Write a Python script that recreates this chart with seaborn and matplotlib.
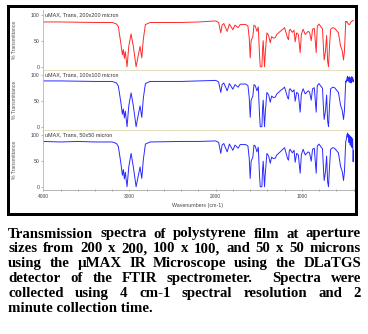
import re
import matplotlib
matplotlib.use("Agg")
import matplotlib.pyplot as plt
import pandas as pd
import seaborn as sns
from matplotlib.patches import Rectangle
from matplotlib.ticker import MultipleLocator

# ---- spectra: wavenumber (cm-1) and % transmittance for each aperture ----
wavenumber = [
    4000, 3800, 3600, 3400, 3200, 3150, 3129, 3101, 3082, 3071, 3059, 3048, 3028,
    3008, 2981, 2955, 2923, 2900, 2877, 2857, 2839, 2815, 2760, 2400, 2200, 2000,
    1986, 1965, 1940, 1925, 1905, 1866, 1840, 1800, 1775, 1739, 1715, 1650, 1625,
    1610, 1599, 1588, 1568, 1555, 1540, 1521, 1505, 1490, 1482, 1463, 1455, 1448,
    1433, 1422, 1405, 1385, 1366, 1350, 1330, 1308, 1290, 1250, 1220, 1200, 1165,
    1154, 1145, 1135, 1110, 1090, 1077, 1060, 1040, 1019, 1005, 985, 960, 926,
    910, 891, 875, 855, 833, 820, 800, 780, 760, 745, 740, 725, 712, 700, 690,
    678, 665, 640, 620, 600, 575, 550, 530, 516, 505, 490,
    484, 476, 470, 464, 458, 452, 446, 440, 434, 428, 422, 416, 410, 404, 400,
]

trans_200 = [
    86, 86, 85.5, 85, 85, 82, 77, 46, 23, 33, 16, 29, 0,
    39, 63, 39, 0, 20, 39, 17, 53, 81, 85, 85, 86, 88,
    87, 85, 65, 80, 83, 68, 82, 71, 80, 75, 81, 81, 78,
    55, 17, 50, 58, 80, 78, 68, 76, 20, 0, 0, 35, 50,
    0, 30, 65, 60, 46, 58, 55, 56, 62, 68, 72, 75, 55,
    52, 70, 72, 66, 70, 48, 65, 62, 27, 62, 72, 62, 68,
    66, 50, 72, 74, 27, 78, 82, 77, 73, 25, 13, 30, 60, 10, 0,
    40, 72, 75, 74, 70, 65, 40, 30, 13, 30, 87,
    86, 87, 85, 83, 82, 81, 81, 83, 85, 86, 87, 88, 88, 89, 89,
]

trans_100 = [
    88, 88, 87.5, 87, 87, 84, 78, 48, 24, 34, 17, 30, 0,
    40, 65, 40, 0, 21, 40, 18, 55, 83, 87, 87, 88, 89,
    88, 86, 66, 81, 84, 69, 83, 72, 81, 76, 82, 82, 79,
    56, 18, 51, 59, 81, 79, 69, 77, 21, 0, 0, 36, 51,
    0, 31, 66, 61, 47, 59, 56, 57, 63, 69, 73, 76, 56,
    53, 71, 73, 67, 71, 49, 66, 63, 28, 63, 73, 63, 69,
    67, 51, 73, 75, 28, 79, 83, 78, 74, 26, 14, 31, 61, 11, 0,
    41, 73, 76, 75, 71, 66, 41, 31, 14, 31, 88,
    86, 92, 97, 88, 95, 86, 96, 85, 94, 84, 96, 88, 95, 86, 90,
]

trans_50 = [
    87, 86, 87, 86, 86, 83, 77, 47, 22, 33, 15, 28, 0,
    38, 64, 38, 0, 19, 38, 16, 52, 82, 86, 87, 87, 88,
    87, 85, 64, 80, 83, 67, 82, 70, 80, 74, 81, 81, 78,
    54, 16, 49, 57, 80, 78, 67, 76, 19, 0, 0, 34, 49,
    0, 29, 64, 59, 45, 57, 54, 55, 61, 67, 72, 75, 54,
    51, 69, 72, 65, 70, 47, 64, 61, 26, 61, 72, 61, 67,
    65, 49, 72, 74, 26, 78, 82, 77, 73, 24, 12, 29, 59, 9, 0,
    39, 72, 75, 74, 70, 65, 39, 29, 12, 29, 88,
    90, 100, 103, 95, 101, 85, 99, 80, 97, 78, 95, 75, 92, 48, 70,
]

panel_series = [trans_200, trans_100, trans_50]
panel_titles = [
    "uMAX, Trans, 200x200 micron",
    "uMAX, Trans, 100x100 micron",
    "uMAX, Trans, 50x50 micron",
]
panel_colors = ["#ff2a2a", "#2a2aff", "#2a2aff"]
x_ticks = [4000, 3000, 2000, 1000]
y_ticks = [0, 50, 100]
y_label = "% Transmittance"
x_label = "Wavenumbers (cm-1)"

caption_lines = [
    "Transmission spectra of polystyrene film at aperture",
    "sizes from 200 x 200, 100 x 100, and 50 x 50 microns",
    "using the \u00b5MAX IR Microscope using the DLaTGS",
    "detector of the FTIR spectrometer.  Spectra were",
    "collected using 4 cm-1 spectral resolution and 2",
    "minute collection time.",
]

# ---- styling ----
sns.set_style("white")
plt.rcParams["font.family"] = ["Liberation Sans", "DejaVu Sans"]

W, H = 368, 334
fig = plt.figure(figsize=(W / 100, H / 100), dpi=100)
fig.patch.set_facecolor("white")


def fx(px):
    return px / W


def fy(py):
    return 1 - py / H


# black frame around the chart
fig.patches.append(Rectangle((fx(7), fy(216)), fx(358) - fx(7), fy(5) - fy(216),
                             transform=fig.transFigure, facecolor="black",
                             edgecolor="none", zorder=-3))
fig.patches.append(Rectangle((fx(9.5), fy(212.5)), fx(354.5) - fx(9.5), fy(7.5) - fy(212.5),
                             transform=fig.transFigure, facecolor="white",
                             edgecolor="none", zorder=-2))

left_px, right_px = 43.3, 353.5
top_px, panel_h = 10.0, 60.0

for i, (vals, title, color) in enumerate(zip(panel_series, panel_titles, panel_colors)):
    top = top_px + i * panel_h
    ax = fig.add_axes([fx(left_px), fy(top + panel_h), fx(right_px) - fx(left_px), panel_h / H])
    df = pd.DataFrame({"wavenumber": wavenumber, "transmittance": vals})
    sns.lineplot(data=df, x="wavenumber", y="transmittance", ax=ax, color=color,
                 linewidth=0.7, sort=False, estimator=None)
    ax.set_xlim(4000, 400)
    ax.set_ylim(-6.3, 109)
    ax.set_facecolor("none")
    ax.set_yticks(y_ticks)
    ax.set_yticklabels([str(v) for v in y_ticks])
    ax.tick_params(axis="y", length=1.8, width=0.5, pad=1.2, labelsize=3.7,
                   colors="#9a9a9a", labelcolor="#444444", left=True)
    ax.set_ylabel(y_label, fontsize=3.7, color="#555555")
    ax.yaxis.set_label_coords((16.5 - left_px) / (right_px - left_px), 0.5)
    ax.set_xlabel("")
    for side in ("top", "right"):
        ax.spines[side].set_visible(False)
    ax.spines["left"].set_color("#b5b5b5")
    ax.spines["left"].set_linewidth(0.6)
    ax.text(0.004, 1 - 2.2 / panel_h, title, transform=ax.transAxes, ha="left",
            va="top", fontsize=3.9, color="#333333")
    if i < 2:
        ax.spines["bottom"].set_color("#e4e0bf")
        ax.spines["bottom"].set_linewidth(0.8)
        ax.set_xticks([])
    else:
        ax.spines["bottom"].set_color("#a8a8a8")
        ax.spines["bottom"].set_linewidth(0.6)
        ax.set_xticks(x_ticks)
        ax.set_xticklabels([str(v) for v in x_ticks])
        ax.xaxis.set_minor_locator(MultipleLocator(200))
        ax.tick_params(axis="x", which="both", direction="inout", length=1.8, width=0.5,
                       colors="#8a8a8a", labelcolor="#444444", labelsize=3.5, pad=2.2,
                       bottom=True)

fig.text(fx(198), fy(205), x_label, ha="center", va="center", fontsize=3.8, color="#444444")

# ---- justified caption ----
cap_font = dict(family=["Liberation Serif", "DejaVu Serif"], weight="bold", size=10.7)
x0, x1 = 8.3, 361.0
baselines = [237.5, 252.3, 267.1, 281.9, 296.7, 311.5]

fig.canvas.draw()
renderer = fig.canvas.get_renderer()
for n, (line, yb) in enumerate(zip(caption_lines, baselines)):
    if n == len(caption_lines) - 1:
        fig.text(fx(x0), fy(yb), line, ha="left", va="baseline", color="black", **cap_font)
        continue
    parts = re.split(r"( +)", line)
    words = parts[0::2]
    gaps = [len(s) for s in parts[1::2]]
    artists, widths = [], []
    for w in words:
        t = fig.text(0, fy(yb), w, ha="left", va="baseline", color="black", **cap_font)
        widths.append(t.get_window_extent(renderer).width)
        artists.append(t)
    unit = ((x1 - x0) - sum(widths)) / max(sum(gaps), 1)
    x = x0
    for k, t in enumerate(artists):
        t.set_x(fx(x))
        x += widths[k]
        if k < len(gaps):
            x += gaps[k] * unit

fig.savefig("out.png", dpi=100, facecolor="white")
